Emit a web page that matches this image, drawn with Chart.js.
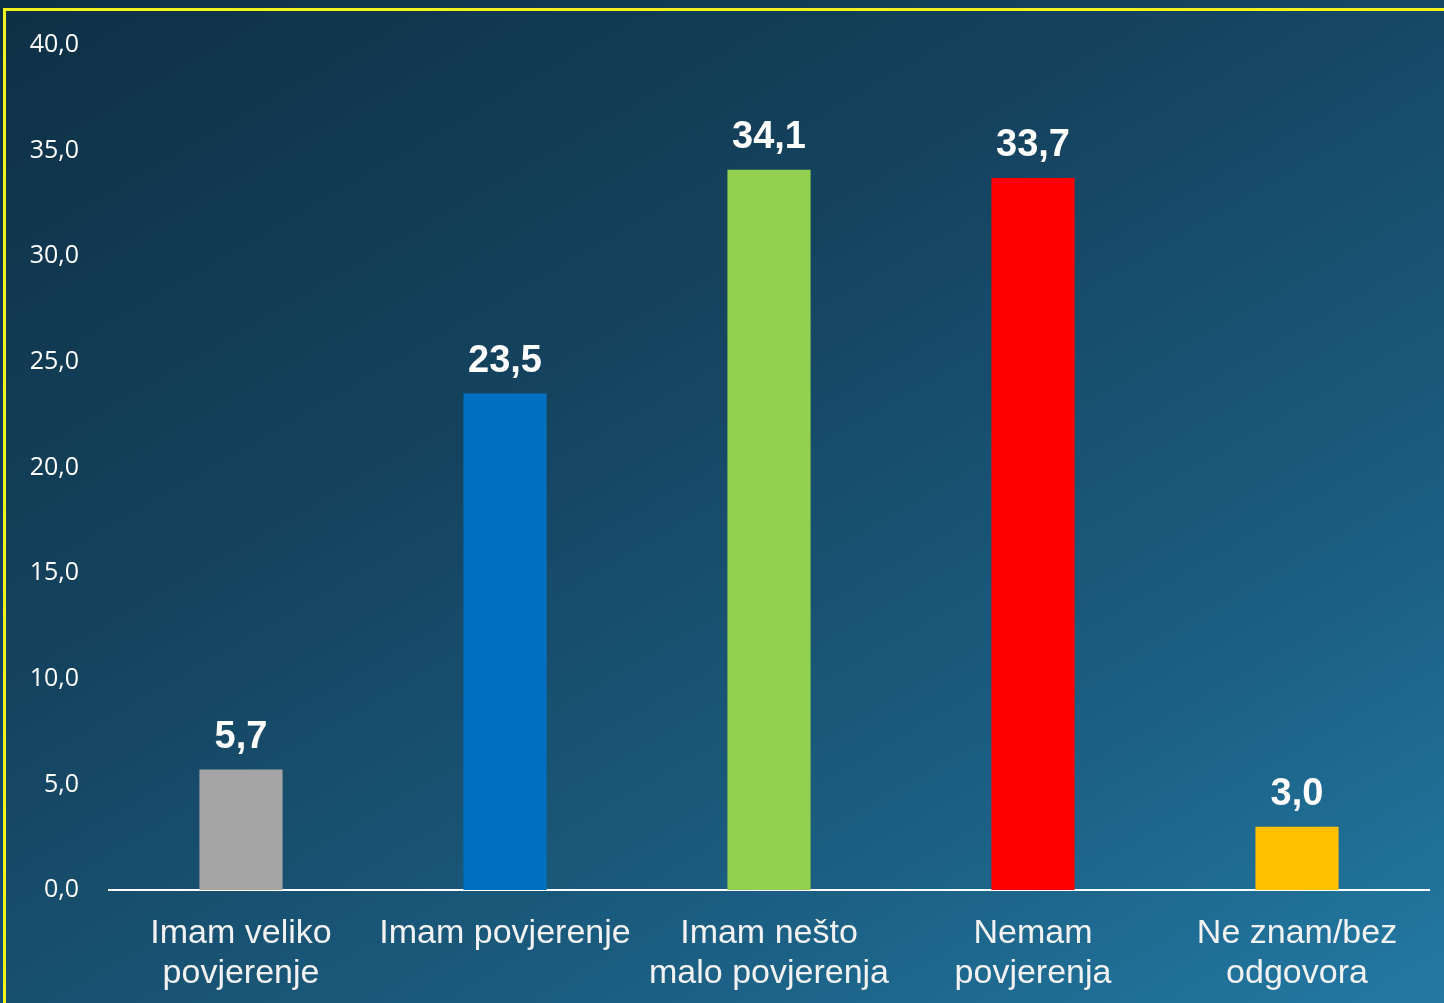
<!DOCTYPE html>
<html>
<head>
<meta charset="utf-8">
<script src="https://cdn.jsdelivr.net/npm/chart.js@4/dist/chart.umd.min.js"></script>
<style>
    html, body { margin: 0; padding: 0; width: 1444px; height: 1003px; overflow: hidden; }
    body { background: linear-gradient(150deg, #0e3045 0%, #154460 40%, #1b5d80 72%, #2379a3 100%); }
    #frame { position: absolute; left: 3px; top: 8px; width: 1450px; height: 1010px; border: 3px solid #f2f21c; box-sizing: border-box; }
    #wrap { position: absolute; left: 0; top: 0; width: 1444px; height: 1003px; }
</style>
</head>
<body>
<div id="frame"></div>
<div id="wrap"><canvas id="chart"></canvas></div>
<script>
// Povjerenje - data
const categories = [
    ['Imam veliko', 'povjerenje'],
    ['Imam povjerenje'],
    ['Imam nešto', 'malo povjerenja'],
    ['Nemam', 'povjerenja'],
    ['Ne znam/bez', 'odgovora'],
];
const values = [5.7, 23.5, 34.1, 33.7, 3.0];
const barColors = ['#a5a5a5', '#0070c0', '#92d050', '#ff0000', '#ffc000'];
const yTicks = [0, 5, 10, 15, 20, 25, 30, 35, 40];

const fmt = v => v.toFixed(1).replace('.', ',');

// value labels above bars
const valueLabels = {
    id: 'valueLabels',
    afterDatasetsDraw(chart) {
        const { ctx } = chart;
        const meta = chart.getDatasetMeta(0);
        ctx.save();
        ctx.fillStyle = '#ffffff';
        ctx.font = 'bold 38px "Liberation Sans", Arial, sans-serif';
        ctx.textAlign = 'center';
        ctx.textBaseline = 'alphabetic';
        meta.data.forEach((bar, i) => {
            ctx.fillText(fmt(values[i]), bar.x, bar.y - 22);
        });
        ctx.restore();
    },
};

new Chart(document.getElementById('chart'), {
    type: 'bar',
    data: {
        labels: categories,
        datasets: [{
            data: values,
            backgroundColor: barColors,
            borderWidth: 0,
            categoryPercentage: 1,
            barPercentage: 0.315,
        }],
    },
    options: {
        responsive: true, maintainAspectRatio: false, animation: false,
        layout: { padding: { top: 44, right: 15, bottom: 0, left: 0 } },
        plugins: { legend: { display: false }, tooltip: { enabled: false } },
        scales: {
            x: {
                grid: { display: false, drawTicks: false },
                border: { display: true, color: '#ffffff', width: 2 },
                ticks: {
                    color: '#f2f2f2', padding: 24, maxRotation: 0, autoSkip: false,
                    font: { family: '"Liberation Sans", Arial, sans-serif', size: 34, lineHeight: 1.17 },
                },
                afterFit: s => { s.height = 113; },
            },
            y: {
                min: 0, max: 40,
                afterBuildTicks: s => { s.ticks = yTicks.map(v => ({ value: v })); },
                grid: { display: false, drawTicks: false },
                border: { display: false },
                ticks: {
                    color: '#ffffff', padding: 30,
                    font: { family: '"Open Sans", sans-serif', size: 25 },
                    callback: v => fmt(v),
                },
                afterFit: s => { s.width = 109; },
            },
        },
    },
    plugins: [valueLabels],
});
</script>
</body>
</html>
